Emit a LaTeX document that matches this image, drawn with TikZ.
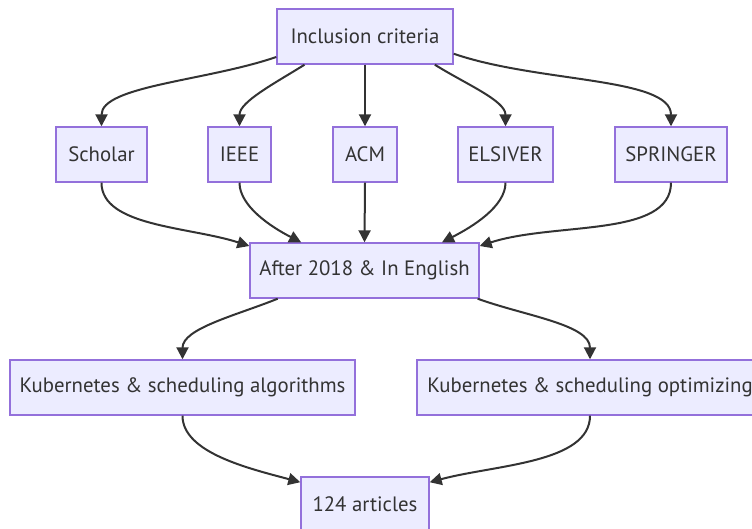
\documentclass[tikz,border=0pt]{standalone}
\usepackage{fontspec}
\setmainfont{PT Sans}
\usetikzlibrary{arrows.meta}

\definecolor{boxfill}{HTML}{ECECFF}
\definecolor{boxline}{HTML}{9370DB}
\definecolor{inkgray}{HTML}{333333}

\begin{document}
\begin{tikzpicture}[x=1pt, y=1pt,
  box/.style={draw=boxline, fill=boxfill, line width=1.4pt, text=inkgray,
    minimum height=55pt, inner sep=0pt, font=\fontsize{20.8}{24}\selectfont},
  link/.style={-{Triangle[length=12pt,width=12pt]}, inkgray, line width=2pt}]

  \useasboundingbox (0,-529) rectangle (752,0);

  \node[box, minimum width=176pt] (crit) at (365,-36.5) {Inclusion criteria};

  \node[box, minimum width=91pt]  (scholar)  at (101.5,-154.5) {Scholar};
  \node[box, minimum width=63pt]  (ieee)     at (239.5,-154.5) {IEEE};
  \node[box, minimum width=64pt]  (acm)      at (365,-154.5)   {ACM};
  \node[box, minimum width=95pt]  (elsiver)  at (505.5,-154.5) {ELSIVER};
  \node[box, minimum width=112pt] (springer) at (671,-154.5)   {SPRINGER};

  \node[box, minimum width=229pt] (after) at (364.5,-270.5) {After 2018 \& In English};

  \node[box, minimum width=345pt] (kubalgo) at (182.5,-387.5) {Kubernetes \& scheduling algorithms};
  \node[box, minimum width=346pt] (kubopt)  at (590,-387.5)   {Kubernetes \& scheduling optimizing};

  \node[box, minimum width=128pt] (articles) at (365,-504.5) {124 articles};

  \draw[link] (crit.193) to[out=199, in=90, in looseness=0.55] (scholar.north);
  \draw[link] (crit.205) to[out=212, in=90, in looseness=0.7] (ieee.north);
  \draw[link] (crit.south) -- (acm.north);
  \draw[link] (crit.-22) to[out=-32, in=90, in looseness=0.7] (elsiver.north);
  \draw[link] (crit.-11) to[out=-19, in=90, in looseness=0.55] (springer.north);

  \draw[link] (scholar.south) to[out=-90, in=162, out looseness=0.7] (after.168);
  \draw[link] (ieee.south) to[out=-90, in=153, out looseness=0.7] (after.156);
  \draw[link] (acm.south) -- (after.north);
  \draw[link] (elsiver.south) to[out=-90, in=27, out looseness=0.7] (after.20.5);
  \draw[link] (springer.south) to[out=-90, in=18, out looseness=0.7] (after.12);

  \draw[link] (after.198) to[out=202, in=90, in looseness=0.7] (kubalgo.north);
  \draw[link] (after.-14) to[out=-20, in=90, in looseness=0.7] (kubopt.north);

  \draw[link] (kubalgo.south) to[out=-90, in=165, out looseness=0.7] (articles.161);
  \draw[link] (kubopt.south) to[out=-90, in=15, out looseness=0.7] (articles.19);

\end{tikzpicture}
\end{document}
